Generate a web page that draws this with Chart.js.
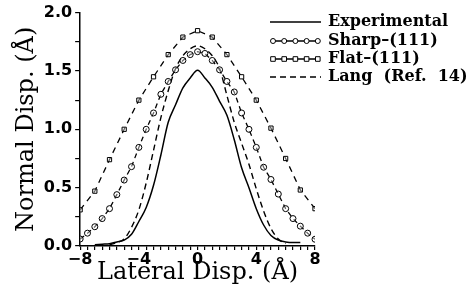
<!DOCTYPE html>
<html>
<head>
<meta charset="utf-8">
<script src="https://cdn.jsdelivr.net/npm/chart.js@4"></script>
<style>
  html, body { margin: 0; padding: 0; background: #fff; }
  #wrap { width: 473px; height: 287px; }
</style>
</head>
<body>
<div id="wrap"><canvas id="js--chart"></canvas></div>
<script>
// lateral displacement positions (Å)
const expX = [-7, -6.5, -6, -5.5, -5, -4.5, -4, -3.5, -3, -2.5, -2, -1.5, -1, -0.5, 0, 0.5, 1, 1.5, 2, 2.5, 3, 3.5, 4, 4.5, 5, 5.5, 6, 6.5, 7];
const expY = [0.01, 0.015, 0.02, 0.035, 0.05, 0.10, 0.21, 0.33, 0.52, 0.78, 1.06, 1.21, 1.355, 1.44, 1.505, 1.44, 1.36, 1.24, 1.12, 0.91, 0.67, 0.50, 0.32, 0.18, 0.09, 0.05, 0.035, 0.03, 0.03];

const sharpX = [-8, -7.5, -7, -6.5, -6, -5.5, -5, -4.5, -4, -3.5, -3, -2.5, -2, -1.5, -1, -0.5, 0, 0.5, 1, 1.5, 2, 2.5, 3, 3.5, 4, 4.5, 5, 5.5, 6, 6.5, 7, 7.5, 8];
const sharpY = [0.06, 0.11, 0.165, 0.235, 0.32, 0.44, 0.565, 0.68, 0.845, 1.00, 1.14, 1.30, 1.41, 1.51, 1.59, 1.64, 1.665, 1.65, 1.59, 1.51, 1.41, 1.32, 1.14, 1.00, 0.845, 0.675, 0.57, 0.445, 0.32, 0.235, 0.17, 0.11, 0.058];

const flatX = [-8, -7, -6, -5, -4, -3, -2, -1, 0, 1, 2, 3, 4, 5, 6, 7, 8];
const flatY = [0.31, 0.47, 0.74, 1.00, 1.25, 1.45, 1.64, 1.79, 1.845, 1.79, 1.64, 1.45, 1.25, 1.01, 0.75, 0.48, 0.32];

const langX = [-6, -5.5, -5, -4.5, -4, -3.5, -3, -2.5, -2, -1.5, -1, -0.5, 0, 0.5, 1, 1.5, 2, 2.5, 3, 3.5, 4, 4.5, 5, 5.5, 6];
const langY = [0.01, 0.03, 0.06, 0.16, 0.31, 0.54, 0.82, 1.10, 1.33, 1.52, 1.63, 1.69, 1.715, 1.69, 1.63, 1.52, 1.29, 1.06, 0.88, 0.70, 0.49, 0.30, 0.15, 0.06, 0.02];

const seriesNames = ['Experimental', 'Sharp\u2013(111)', 'Flat\u2013(111)', 'Lang  (Ref.  14)'];

function pts(xs, ys) {
    return xs.map(function (x, i) { return { x: x, y: ys[i] }; });
}

const data = {
    datasets: [
        {
            label: seriesNames[0],
            data: pts(expX, expY),
            borderColor: '#000',
            borderWidth: 1.5,
            pointRadius: 0,
            cubicInterpolationMode: 'monotone'
        },
        {
            label: seriesNames[1],
            data: pts(sharpX, sharpY),
            borderColor: '#000',
            borderWidth: 1.3,
            borderDash: [5, 4],
            pointStyle: 'circle',
            pointRadius: 3,
            pointBorderWidth: 1,
            pointBorderColor: '#000',
            pointBackgroundColor: 'rgba(255,255,255,0.4)'
        },
        {
            label: seriesNames[2],
            data: pts(flatX, flatY),
            borderColor: '#000',
            borderWidth: 1.3,
            borderDash: [6, 5],
            pointStyle: 'rect',
            pointRadius: 3,
            pointBorderWidth: 1,
            pointBorderColor: '#000',
            pointBackgroundColor: 'rgba(255,255,255,0.4)'
        },
        {
            label: seriesNames[3],
            data: pts(langX, langY),
            borderColor: '#000',
            borderWidth: 1.4,
            borderDash: [6, 4],
            pointRadius: 0,
            cubicInterpolationMode: 'monotone'
        }
    ]
};

// legend drawn by hand, to the right of the plot
const legendPlugin = {
    id: 'sideLegend',
    afterDraw: function (chart) {
        const ctx = chart.ctx;
        const x0 = 270, x1 = 321, tx = 328;
        const rows = [22, 41, 59, 77];
        ctx.save();
        chart.data.datasets.forEach(function (ds, i) {
            const y = rows[i];
            ctx.strokeStyle = '#000';
            ctx.lineWidth = ds.borderWidth;
            ctx.setLineDash(ds.pointRadius > 0 ? [] : (ds.borderDash || []));
            ctx.beginPath();
            ctx.moveTo(ds.pointRadius > 0 ? x0 + 3 : x0, y);
            ctx.lineTo(ds.pointRadius > 0 ? x1 - 3 : x1, y);
            ctx.stroke();
            ctx.setLineDash([]);
            if (ds.pointRadius > 0) {
                for (let k = 0; k < 5; k++) {
                    const px = x0 + 3 + k * 11.2;
                    ctx.lineWidth = 1;
                    ctx.fillStyle = '#fff';
                    ctx.beginPath();
                    if (ds.pointStyle === 'rect') {
                        ctx.rect(px - 2.3, y - 2.3, 4.6, 4.6);
                    } else {
                        ctx.arc(px, y, 2.5, 0, Math.PI * 2);
                    }
                    ctx.fill();
                    ctx.stroke();
                }
            }
            ctx.fillStyle = '#000';
            ctx.font = 'bold 16px "DejaVu Serif"';
            ctx.textBaseline = 'middle';
            ctx.textAlign = 'left';
            ctx.fillText(ds.label, tx, y);
        });
        ctx.restore();
    }
};

const config = {
    type: 'line',
    data: data,
    options: {
        responsive: true,
        maintainAspectRatio: false,
        animation: false,
        layout: { padding: { top: 4, right: 158, left: 12, bottom: 0 } },
        plugins: {
            legend: { display: false },
            tooltip: { enabled: false }
        },
        scales: {
            x: {
                type: 'linear',
                min: -8,
                max: 8,
                border: { display: true, color: '#000', width: 1.5 },
                grid: { drawOnChartArea: false, drawTicks: true, tickLength: 4, color: '#000', lineWidth: 1.2 },
                ticks: {
                    stepSize: 0.5,
                    autoSkip: false,
                    maxRotation: 0,
                    padding: 0,
                    color: '#000',
                    font: { family: 'DejaVu Sans', size: 16, weight: 'bold' },
                    callback: function (v) {
                        if (v % 4 !== 0) return '';
                        return v < 0 ? '\u2212' + Math.abs(v) : String(v);
                    }
                },
                title: {
                    display: true,
                    text: 'Lateral Disp. (\u00c5)',
                    color: '#000',
                    font: { family: 'DejaVu Serif', size: 24 },
                    padding: { top: -11, bottom: 0 }
                }
            },
            y: {
                min: 0,
                max: 2,
                border: { display: true, color: '#000', width: 1.5 },
                grid: { drawOnChartArea: false, drawTicks: true, tickLength: 5, color: '#000', lineWidth: 1.2 },
                ticks: {
                    stepSize: 0.25,
                    autoSkip: false,
                    padding: 3,
                    color: '#000',
                    font: { family: 'DejaVu Sans', size: 16, weight: 'bold' },
                    callback: function (v) {
                        return (Math.round(v * 100) % 50 === 0) ? v.toFixed(1) : '';
                    }
                },
                title: {
                    display: true,
                    text: 'Normal Disp. (\u00c5)',
                    color: '#000',
                    font: { family: 'DejaVu Serif', size: 24 },
                    padding: { top: 0, bottom: 0 }
                }
            }
        }
    },
    plugins: [legendPlugin]
};

new Chart(document.getElementById('js--chart'), config);
</script>
</body>
</html>
